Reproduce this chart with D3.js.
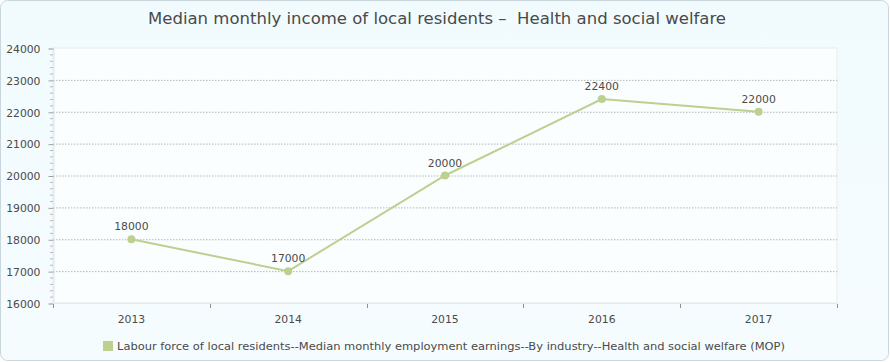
<!DOCTYPE html>
<html><head><meta charset="utf-8">
<script src="https://cdn.jsdelivr.net/npm/d3@7"></script>
<style>body{margin:0;background:#fff}svg{display:block}</style>
</head><body>
<svg id="c" width="890" height="362"></svg>
<script>
const categories = ["2013","2014","2015","2016","2017"];
const values = [18000,17000,20000,22400,22000];
const yTicks = [16000,17000,18000,19000,20000,21000,22000,23000,24000];
const titleText = "Median monthly income of local residents \u2013  Health and social welfare";
const seriesName = "Labour force of local residents--Median monthly employment earnings--By industry--Health and social welfare (MOP)";

const svg = d3.select("#c");
const W = 890, H = 362;
const m = {l:53, r:837, t:48, b:303};
const color = "#bcd08f";
const font = "DejaVu Sans, Verdana, sans-serif";

const defs = svg.append("defs");
const g1 = defs.append("linearGradient").attr("id","bg").attr("x1",0).attr("y1",0).attr("x2",0).attr("y2",1);
g1.append("stop").attr("offset","0%").attr("stop-color","#f1fbfe");
g1.append("stop").attr("offset","100%").attr("stop-color","#f6fcfe");

svg.append("rect").attr("x",0.5).attr("y",0.5).attr("width",W-2).attr("height",H-2)
  .attr("rx",7).attr("fill","url(#bg)").attr("stroke","#c9d6dc");

svg.append("rect").attr("x",m.l).attr("y",m.t).attr("width",m.r-m.l).attr("height",m.b-m.t)
  .attr("fill","#fbfeff").attr("stroke","#e6ecef");

svg.append("text").attr("x",148).attr("y",24)
  .attr("font-family",font).attr("font-size",15.5).attr("fill","#4a4a4a")
  .style("white-space","pre").attr("textLength",578).attr("lengthAdjust","spacingAndGlyphs").text(titleText);

const x = d3.scaleBand().domain(categories).range([m.l,m.r]).padding(0);
const y = d3.scaleLinear().domain([16000,24000]).range([m.b,m.t]);

// gridlines
svg.append("g").selectAll("line").data(yTicks.filter(v=>v>16000 && v<24000)).join("line")
  .attr("x1",m.l).attr("x2",m.r).attr("y1",d=>y(d)+0.5).attr("y2",d=>y(d)+0.5)
  .attr("stroke","#b5b5b5").attr("stroke-dasharray","1.5,1.5");

// y axis
const yAxis = d3.axisLeft(y).tickValues(yTicks).tickSize(5).tickPadding(8).tickFormat(d3.format("d"));
const ya = svg.append("g").attr("transform",`translate(${m.l+0.5},0.5)`).call(yAxis);
ya.select(".domain").attr("stroke","#dde3e6");
ya.selectAll(".tick line").attr("stroke","#a0a0a0");
ya.selectAll(".tick text").attr("font-family",font).attr("font-size",10.8).attr("fill","#4a4a4a").attr("dy","0.35em");
// minor ticks
const minor = d3.range(16200,24000,200).filter(v=>v%1000!==0);
svg.append("g").selectAll("line").data(minor).join("line")
  .attr("x1",m.l-3).attr("x2",m.l).attr("y1",d=>y(d)+0.5).attr("y2",d=>y(d)+0.5)
  .attr("stroke","#b8b8b8");

// x axis
svg.append("line").attr("x1",m.l).attr("x2",m.r).attr("y1",m.b+0.5).attr("y2",m.b+0.5).attr("stroke","#e3e9ec");
const bounds = categories.map(c=>x(c)).concat([m.r]);
svg.append("g").selectAll("line").data(bounds).join("line")
  .attr("x1",d=>Math.round(d)+0.5).attr("x2",d=>Math.round(d)+0.5).attr("y1",m.b+1).attr("y2",m.b+5)
  .attr("stroke","#909090");
svg.append("g").selectAll("text").data(categories).join("text")
  .attr("x",d=>x(d)+x.bandwidth()/2).attr("y",323).attr("text-anchor","middle")
  .attr("font-family",font).attr("font-size",10.8).attr("fill","#4a4a4a").text(d=>d);

// line
const cx = (d,i)=>x(categories[i])+x.bandwidth()/2;
svg.append("path").datum(values)
  .attr("d",d3.line().x(cx).y(d=>y(d)))
  .attr("fill","none").attr("stroke",color).attr("stroke-width",2);
svg.append("g").selectAll("circle").data(values).join("circle")
  .attr("cx",cx).attr("cy",d=>y(d)).attr("r",4).attr("fill",color);
svg.append("g").selectAll("text").data(values).join("text")
  .attr("x",cx).attr("y",d=>y(d)-9).attr("text-anchor","middle")
  .attr("font-family",font).attr("font-size",10.8).attr("fill","#4a4a4a").text(d=>d);

// legend
svg.append("rect").attr("x",103).attr("y",341).attr("width",10).attr("height",10).attr("fill",color);
svg.append("text").attr("x",117).attr("y",350).attr("font-family",font).attr("font-size",11)
  .attr("fill","#4a4a4a").attr("textLength",668).attr("lengthAdjust","spacingAndGlyphs").text(seriesName);
</script>
</body></html>
